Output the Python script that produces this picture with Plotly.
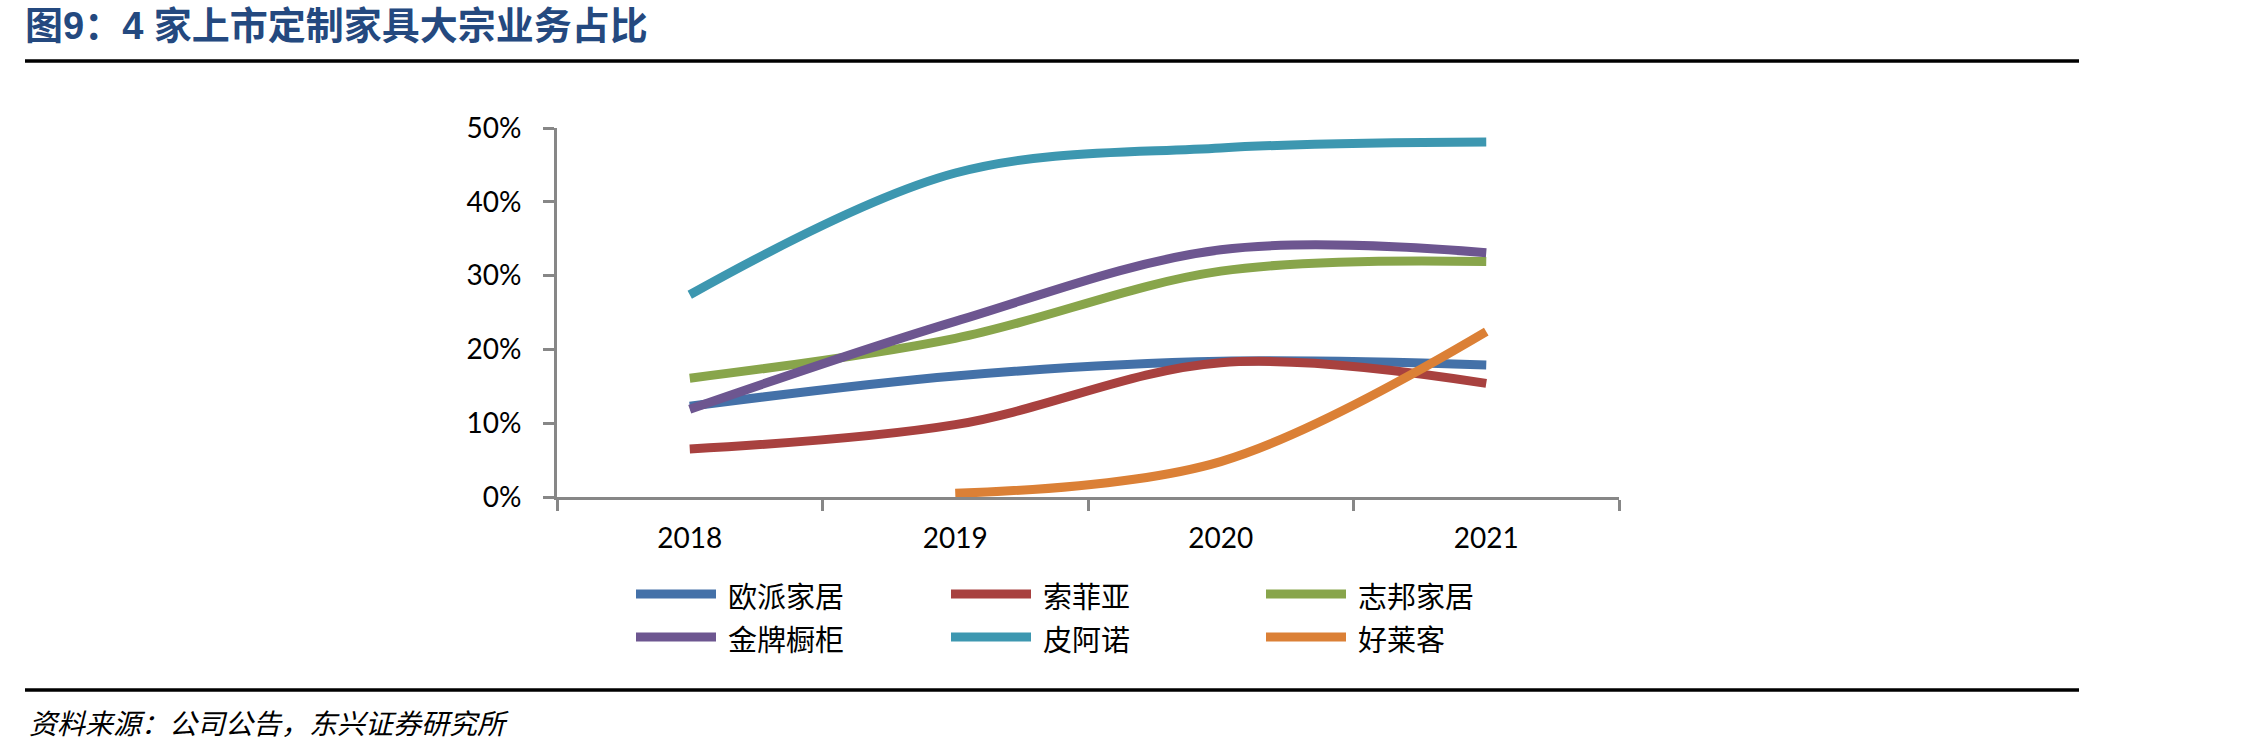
import plotly.graph_objects as go

# ---------------- data ----------------
years = ["2018", "2019", "2020", "2021"]
series_names = ["欧派家居", "索菲亚", "志邦家居", "金牌橱柜", "皮阿诺", "好莱客"]
oppein = [0.123, 0.164, 0.184, 0.179]
sogal = [0.065, 0.098, 0.182, 0.154]
zbom = [0.161, 0.215, 0.306, 0.319]
goldenhome = [0.119, 0.238, 0.335, 0.331]
piano = [0.274, 0.439, 0.473, 0.481]
holike = [None, 0.005, 0.048, 0.224]
series_values = [oppein, sogal, zbom, goldenhome, piano, holike]
y_ticks = [0, 0.1, 0.2, 0.3, 0.4, 0.5]

title_text = "图9：4 家上市定制家具大宗业务占比"
source_text = "资料来源：公司公告，东兴证券研究所"

# ---------------- style ----------------
colors = ["#4471A8", "#A8413F", "#88A54B", "#6D5690", "#3D97B0", "#DB8036"]
W, H = 2268, 752
L, R, T, B = 557, W - 1619, 128, H - 497
PW, PH = W - L - R, H - T - B
axis_color = "#878787"
tick_font = dict(family="Lato, Liberation Sans, sans-serif", size=28, color="#000000")
cjk = "Noto Sans CJK SC"


def xp(px):
    return (px - L) / PW


def yp(py):
    return ((H - B) - py) / PH


fig = go.Figure()
for name, vals, col in zip(series_names, series_values, colors):
    fig.add_trace(go.Scatter(
        x=years, y=vals, name=name, mode="lines",
        line=dict(color=col, width=9, shape="spline", smoothing=1.0),
        showlegend=False,
    ))

# custom legend: 3 columns x 2 rows
leg_cols_px = [632, 947, 1262]
leg_rows_px = [594, 637]
swatch_len = 88
shapes = []
annotations = []
for i, (name, col) in enumerate(zip(series_names, colors)):
    r, c = divmod(i, 3)
    x0 = leg_cols_px[c]
    yy = leg_rows_px[r]
    shapes.append(dict(type="line", xref="paper", yref="paper",
                       x0=xp(x0 + 4), x1=xp(x0 + swatch_len - 4), y0=yp(yy), y1=yp(yy),
                       line=dict(color=col, width=9)))
    annotations.append(dict(text=name, xref="paper", yref="paper",
                            x=xp(x0 + swatch_len + 7), y=yp(yy + 1),
                            xanchor="left", yanchor="middle", showarrow=False,
                            borderpad=0,
                            font=dict(family=cjk, size=29, color="#000000")))

# header / footer rules
shapes.append(dict(type="line", xref="paper", yref="paper",
                   x0=xp(25), x1=xp(2079), y0=yp(61), y1=yp(61),
                   line=dict(color="#000000", width=3.5)))
shapes.append(dict(type="line", xref="paper", yref="paper",
                   x0=xp(25), x1=xp(2079), y0=yp(690), y1=yp(690),
                   line=dict(color="#000000", width=3.5)))

annotations.append(dict(text=source_text, xref="paper", yref="paper",
                        x=xp(27), y=yp(722), xanchor="left", yanchor="middle",
                        showarrow=False,
                        font=dict(family=cjk, size=28, color="#000000", style="italic")))

fig.update_layout(
    width=W, height=H,
    margin=dict(l=L, r=R, t=T, b=B, pad=0),
    paper_bgcolor="#FFFFFF", plot_bgcolor="#FFFFFF",
    title=dict(text="<b>" + title_text + "</b>", xref="container", yref="container",
               x=25 / W, y=1 - 26 / H, xanchor="left", yanchor="middle",
               font=dict(family="Liberation Sans, " + cjk, size=38, color="#24497F")),
    shapes=shapes, annotations=annotations,
    showlegend=False,
)
fig.update_xaxes(
    type="category", range=[-0.5, 3.5], tickson="boundaries",
    showline=True, linecolor=axis_color, linewidth=3,
    ticks="outside", ticklen=11, tickwidth=3, tickcolor=axis_color,
    showgrid=False, zeroline=False, tickfont=tick_font, ticklabelstandoff=14,
)
fig.update_yaxes(
    range=[0, 0.5], tickvals=y_ticks, tickformat=".0%",
    showline=True, linecolor=axis_color, linewidth=3,
    ticks="outside", ticklen=11, tickwidth=3, tickcolor=axis_color,
    showgrid=False, zeroline=False, tickfont=tick_font, ticklabelstandoff=16,
)

fig.write_html("out.html")
